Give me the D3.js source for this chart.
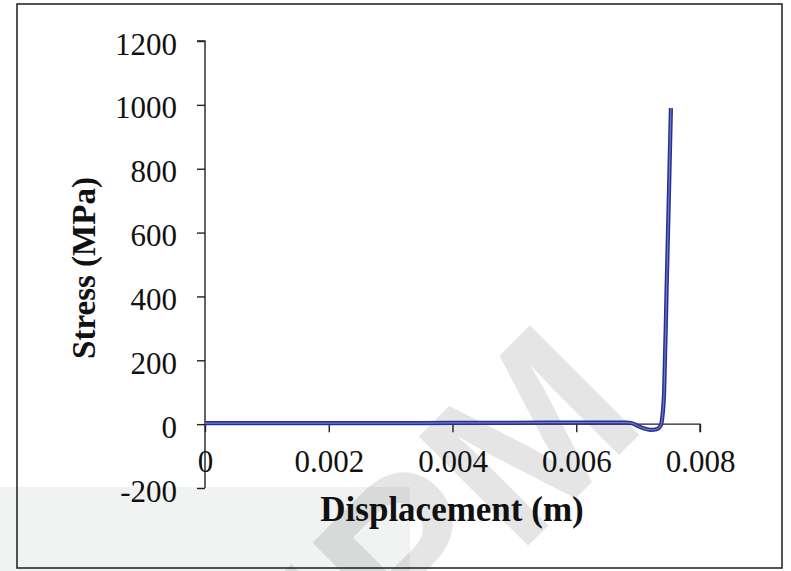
<!DOCTYPE html>
<html>
<head>
<meta charset="utf-8">
<script src="https://cdn.jsdelivr.net/npm/d3@7"></script>
<style>
  html, body { margin: 0; padding: 0; background: #ffffff; }
  svg { display: block; }
</style>
</head>
<body>
<div id="chart"></div>
<script>
// Stress–displacement response: flat near zero, small compressive dip, then a steep rise.
const displacement = [0, 0.001, 0.002, 0.003, 0.004, 0.005, 0.006, 0.0066, 0.0068, 0.0069, 0.0070, 0.0071, 0.0072, 0.0073, 0.00736, 0.00739, 0.00742, 0.00746, 0.0075, 0.00753];
const stress       = [3, 3, 3, 3, 4, 4, 5, 5, 5, 3, -6, -14, -18, -16, -6, 20, 100, 420, 740, 990];

const xTicks = [0, 0.002, 0.004, 0.006, 0.008];
const xTickLabels = ["0", "0.002", "0.004", "0.006", "0.008"];
const yTicks = [-200, 0, 200, 400, 600, 800, 1000, 1200];
const yTickLabels = ["-200", "0", "200", "400", "600", "800", "1000", "1200"];

const xTitle = "Displacement (m)";
const yTitle = "Stress (MPa)";
const watermark = "IPM";

const W = 791, H = 571;
const svg = d3.select("#chart").append("svg").attr("width", W).attr("height", H);

const x = d3.scaleLinear().domain([0, 0.008]).range([205, 700]);
const y = d3.scaleLinear().domain([-200, 1200]).range([488, 41]);

// page background and lower band
svg.append("rect").attr("width", W).attr("height", H).attr("fill", "#ffffff");
svg.append("rect").attr("x", 0).attr("y", 487).attr("width", 410).attr("height", H - 487).attr("fill", "#f1f2f2");

// faint watermark behind the chart, clipped to the page
svg.append("clipPath").attr("id", "page").append("rect").attr("width", W).attr("height", H);
svg.append("g").attr("clip-path", "url(#page)").append("text")
  .attr("transform", "translate(650,424) rotate(-45)")
  .attr("text-anchor", "end")
  .attr("font-family", "Liberation Sans, Arial, sans-serif")
  .attr("font-weight", "bold")
  .attr("font-size", 225)
  .attr("fill", "#000")
  .attr("fill-opacity", 0.1)
  .text(watermark);

// outer frame
svg.append("rect").attr("x", 17).attr("y", 4).attr("width", 765).attr("height", 564)
  .attr("fill", "none").attr("stroke", "#2a2a2a").attr("stroke-width", 1.6);

const serif = "Liberation Serif, Times New Roman, serif";

// y axis
const yAxis = d3.axisLeft(y).tickValues(yTicks).tickSize(8).tickPadding(20)
  .tickFormat((d, i) => yTickLabels[i]);
const gy = svg.append("g").attr("transform", `translate(${x(0)},0)`).call(yAxis);
gy.select(".domain").attr("d", `M-0,${y(-200)}H0V${y(1200)}H-8`).attr("stroke", "#222").attr("stroke-width", 1.4);
gy.selectAll(".tick line").attr("stroke", "#222").attr("stroke-width", 1.4);
gy.selectAll(".tick text").attr("font-family", serif).attr("font-size", 31).attr("fill", "#111").attr("dy", "0.42em");

// x axis drawn along stress = 0
const xAxis = d3.axisBottom(x).tickValues(xTicks).tickSize(8).tickPadding(18)
  .tickFormat((d, i) => xTickLabels[i]);
const gx = svg.append("g").attr("transform", `translate(0,${y(0)})`).call(xAxis);
gx.select(".domain").attr("d", `M${x(0)},0H${x(0.008)}V8`).attr("stroke", "#222").attr("stroke-width", 1.4);
gx.selectAll(".tick line").attr("stroke", "#222").attr("stroke-width", 1.4);
gx.selectAll(".tick text").attr("font-family", serif).attr("font-size", 31).attr("fill", "#111");

// axis titles
svg.append("text").attr("x", 452).attr("y", 521).attr("text-anchor", "middle")
  .attr("font-family", serif).attr("font-weight", "bold").attr("font-size", 35).attr("fill", "#111")
  .text(xTitle);
svg.append("text").attr("transform", "translate(95,268) rotate(-90)").attr("text-anchor", "middle")
  .attr("font-family", serif).attr("font-weight", "bold").attr("font-size", 33).attr("fill", "#111")
  .text(yTitle);

// curve
const pts = displacement.map((d, i) => [d, stress[i]]);
const line = d3.line().x(d => x(d[0])).y(d => y(d[1])).curve(d3.curveMonotoneX);
svg.append("path").datum(pts).attr("d", line).attr("fill", "none")
  .attr("stroke", "#28308c").attr("stroke-width", 4.2).attr("stroke-linejoin", "round");
svg.append("path").datum(pts).attr("d", line).attr("fill", "none")
  .attr("stroke", "#6d7bd0").attr("stroke-width", 1.2).attr("stroke-linejoin", "round");
</script>
</body>
</html>
